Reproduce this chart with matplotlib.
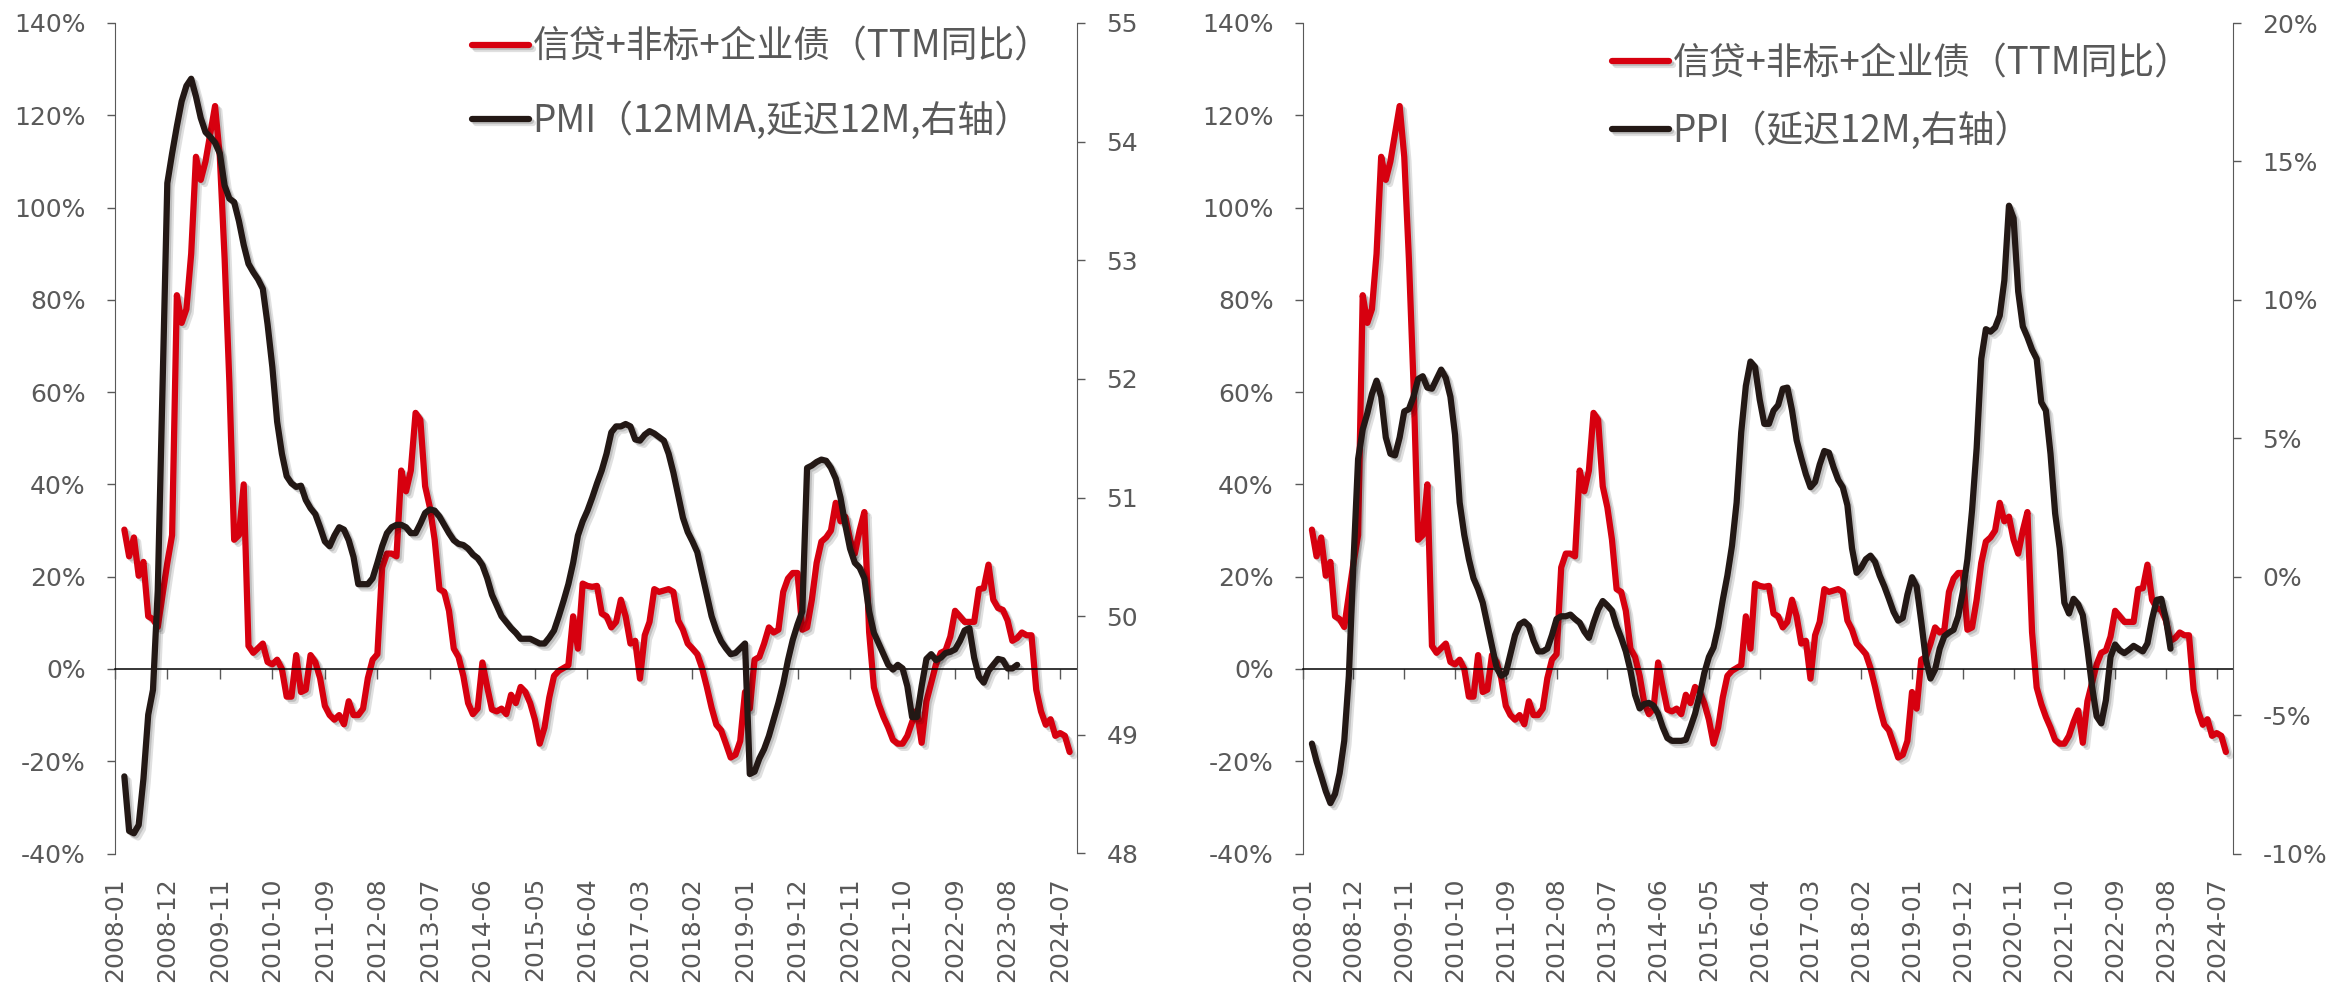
import numpy as np
import matplotlib
matplotlib.use('Agg')
import matplotlib.pyplot as plt
import matplotlib.patheffects as pe

# month offsets counted from 2008-01
credit_months = np.arange(2, 201)
credit_yoy = [
    30.2, 24.4, 28.5, 20.2, 23.2, 11.4, 10.8, 9.1, 16, 23, 29,
    81, 75, 78, 90, 111, 106, 110, 116, 122, 111, 89, 62,
    28, 29, 40, 5, 3.5, 4.5, 5.5, 1.5, 1, 2, 0,
    -6, -6, 3, -5, -4.5, 3, 1.5, -2, -8, -10, -11, -10,
    -12, -7, -10, -10, -8.6, -2, 2, 3.2, 22, 25, 25, 24.4,
    43, 38.5, 43, 55.5, 54, 39.6, 35, 28, 17.3, 16.7, 12.6, 4.4,
    2.6, -1.5, -7.4, -9.8, -8.6, 1.4, -3.9, -8.8, -9.2, -8.6, -9.8, -5.6,
    -7.4, -3.9, -5, -7.4, -11, -16.2, -12.7, -6.2, -1.5, -0.4, 0.2, 0.8,
    11.4, 4.4, 18.5, 18, 17.8, 18, 12, 11.4, 9, 10.2, 15, 11.4,
    5.5, 6.1, -2.1, 7.3, 10.2, 17.3, 16.7, 17, 17.3, 16.7, 10.5, 8.5,
    5.5, 4.4, 3.2, 0.2, -3.9, -8.4, -12.1, -13.3, -16.2, -19.2, -18.6, -15.6,
    -5, -8.6, 2, 2.6, 5.5, 9, 7.9, 8.5, 16.7, 19.6, 20.8, 20.8,
    8.5, 9, 15, 23, 27.6, 28.5, 30, 36, 32, 33, 28, 25,
    30, 34, 8, -4, -7.6, -10.4, -12.7, -15.4, -16.2, -16.2, -14.5, -11.5,
    -9, -16, -7, -3, 1, 3.5, 4, 7, 12.6, 11.4, 10.2, 10.2,
    10.2, 17.3, 17.5, 22.6, 15, 13.2, 12.8, 10.5, 6.1, 6.7, 7.9, 7.3,
    7.3, -4.5, -9.2, -12.1, -10.9, -14.5, -13.9, -14.5, -18,
]

pmi_months = np.arange(2, 190)
pmi_12mma = [
    48.65, 48.19, 48.17, 48.24, 48.63, 49.17, 49.38, 50.22, 51.92, 53.65,
    53.9, 54.13, 54.34, 54.47, 54.53, 54.38, 54.2, 54.08, 54.04, 53.99,
    53.9, 53.63, 53.52, 53.49, 53.33, 53.13, 52.97, 52.9, 52.84, 52.76,
    52.46, 52.1, 51.64, 51.37, 51.18, 51.12, 51.09, 51.1, 50.98, 50.91,
    50.86, 50.75, 50.63, 50.59, 50.68, 50.75, 50.73, 50.64, 50.5, 50.27,
    50.27, 50.27, 50.32, 50.45, 50.59, 50.7, 50.75, 50.77, 50.77, 50.75,
    50.7, 50.7, 50.78, 50.87, 50.9, 50.89, 50.84, 50.77, 50.7, 50.64,
    50.61, 50.6, 50.57, 50.52, 50.49, 50.43, 50.32, 50.18, 50.09, 50.0,
    49.95, 49.9, 49.86, 49.81, 49.81, 49.81, 49.79, 49.77, 49.77, 49.82,
    49.88, 50.0, 50.13, 50.27, 50.45, 50.68, 50.8, 50.89, 51.0, 51.12,
    51.23, 51.37, 51.55, 51.6, 51.6, 51.62, 51.6, 51.49, 51.48, 51.53,
    51.56, 51.54, 51.51, 51.48, 51.37, 51.21, 51.02, 50.83, 50.71, 50.63,
    50.54, 50.36, 50.18, 50.0, 49.88, 49.79, 49.73, 49.68, 49.69, 49.73,
    49.77, 48.67, 48.69, 48.8, 48.88, 48.99, 49.13, 49.27, 49.43, 49.63,
    49.8, 49.93, 50.04, 51.25, 51.27, 51.3, 51.32, 51.31, 51.25, 51.16,
    51.0, 50.77, 50.57, 50.45, 50.41, 50.32, 50.04, 49.86, 49.77, 49.68,
    49.59, 49.55, 49.59, 49.56, 49.41, 49.15, 49.15, 49.41, 49.64, 49.68,
    49.63, 49.65, 49.69, 49.7, 49.72, 49.79, 49.88, 49.9, 49.65, 49.49,
    49.44, 49.54, 49.59, 49.64, 49.63, 49.56, 49.56, 49.59,
]

ppi_months = np.arange(2, 189)
ppi_yoy = [
    -6.03, -6.67, -7.2, -7.75, -8.18, -7.85, -7.1, -5.93, -3.58, 0.53,
    4.25, 5.32, 5.9, 6.6, 7.08, 6.5, 5.03, 4.44, 4.38, 5.03,
    5.97, 6.05, 6.5, 7.14, 7.24, 6.83, 6.79, 7.14, 7.48, 7.18,
    6.5, 5.13, 2.68, 1.51, 0.63, -0.06, -0.45, -0.94, -1.72, -2.5,
    -3.29, -3.58, -3.48, -2.8, -2.11, -1.72, -1.62, -1.78, -2.31, -2.7,
    -2.7, -2.6, -2.11, -1.53, -1.43, -1.43, -1.37, -1.53, -1.66, -1.98,
    -2.21, -1.66, -1.19, -0.88, -1.04, -1.23, -1.78, -2.21, -2.7, -3.39,
    -4.27, -4.76, -4.6, -4.56, -4.66, -4.95, -5.44, -5.83, -5.93, -5.93,
    -5.93, -5.89, -5.44, -4.95, -4.27, -3.48, -2.9, -2.56, -1.82, -0.84,
    0.04, 1.12, 2.68, 5.22, 6.89, 7.77, 7.57, 6.4, 5.52, 5.52,
    6.0, 6.2, 6.79, 6.83, 6.01, 4.93, 4.29, 3.7, 3.23, 3.42,
    4.05, 4.54, 4.48, 3.95, 3.5, 3.23, 2.58, 1.02, 0.14, 0.33,
    0.63, 0.76, 0.53, 0.04, -0.35, -0.8, -1.27, -1.59, -1.49, -0.65,
    -0.02, -0.35, -1.62, -2.99, -3.68, -3.35, -2.6, -2.15, -2.02, -1.92,
    -1.43, -0.55, 0.63, 2.39, 4.64, 7.87, 8.94, 8.85, 9.0, 9.43,
    10.7, 13.4, 12.95, 10.3, 9.04, 8.65, 8.2, 7.87, 6.3, 6.0,
    4.44, 2.29, 1.02, -0.94, -1.33, -0.8, -1.0, -1.39, -2.6, -3.97,
    -5.05, -5.3, -4.46, -2.9, -2.45, -2.66, -2.76, -2.64, -2.5, -2.6,
    -2.7, -2.41, -1.53, -0.84, -0.8, -1.53, -2.6,
]

tick_months = np.arange(0, 199, 11)
tick_labels = [
    '2008-01', '2008-12', '2009-11', '2010-10', '2011-09', '2012-08',
    '2013-07', '2014-06', '2015-05', '2016-04', '2017-03', '2018-02',
    '2019-01', '2019-12', '2020-11', '2021-10', '2022-09', '2023-08',
    '2024-07',
]

left_ticks = np.arange(-40, 141, 20)
pmi_ticks = np.arange(48, 56)
ppi_ticks = np.arange(-10, 21, 5)

credit_label = '信贷+非标+企业债（TTM同比）'
pmi_label = 'PMI（12MMA,延迟12M,右轴）'
ppi_label = 'PPI（延迟12M,右轴）'

RED = '#D7000F'
DARK = '#231815'
GREY = '#595959'

W, H = 2331, 983
fig = plt.figure(figsize=(W / 100, H / 100), dpi=100)

shadow = [pe.SimpleLineShadow(offset=(3, -3), shadow_color='black', alpha=0.12),
          pe.SimpleLineShadow(offset=(1.5, -1.5), shadow_color='black', alpha=0.15),
          pe.Normal()]
cjk = ['Noto Sans CJK SC', 'DejaVu Sans']


def panel(x0, x1, y_top, y_bot, r_months, r_vals, r_lim, r_ticks, r_fmt,
          r_label, leg_x, leg_y, leg_space):
    ax = fig.add_axes([x0 / W, 1 - y_bot / H, (x1 - x0) / W, (y_bot - y_top) / H])
    ax.set_xlim(0, 201.6)
    ax.set_ylim(-40, 140)
    l1, = ax.plot(credit_months, credit_yoy, color=RED, lw=4.5,
                  solid_joinstyle='round', solid_capstyle='round', path_effects=shadow)

    ax.set_yticks(left_ticks, labels=[f'{v}%' for v in left_ticks])
    ax.tick_params(axis='y', direction='out', length=6, width=1, color=GREY,
                   labelcolor=GREY, labelsize=18, pad=15)

    # zero line carries the x tick marks, labels sit below the plot
    ax.spines['bottom'].set_position(('data', 0))
    ax.spines['bottom'].set_color('black')
    ax.spines['bottom'].set_linewidth(1.1)
    ax.spines['top'].set_visible(False)
    ax.spines['left'].set_color(GREY)
    ax.spines['right'].set_visible(False)
    ax.set_xticks(tick_months)
    ax.tick_params(axis='x', direction='out', length=7, width=1, color=GREY,
                   labelbottom=False)

    sec = ax.secondary_xaxis('bottom')
    sec.set_xticks(tick_months, labels=tick_labels, rotation=90)
    sec.tick_params(length=0, pad=17, labelsize=18, labelcolor=GREY)
    sec.spines['bottom'].set_visible(False)

    ax2 = ax.twinx()
    l2, = ax2.plot(r_months, r_vals, color=DARK, lw=4.5,
                   solid_joinstyle='round', solid_capstyle='round', path_effects=shadow)
    ax2.set_ylim(*r_lim)
    ax2.set_yticks(r_ticks, labels=[r_fmt(v) for v in r_ticks])
    ax2.tick_params(axis='y', direction='out', length=6, width=1, color=GREY,
                    labelcolor=GREY, labelsize=18, pad=15)
    for s in ['top', 'bottom', 'left']:
        ax2.spines[s].set_visible(False)
    ax2.spines['right'].set_color(GREY)

    ax2.legend([l1, l2], [credit_label, r_label], loc='upper left',
               bbox_to_anchor=(leg_x / W, 1 - leg_y / H), bbox_transform=fig.transFigure,
               frameon=False, prop={'family': cjk, 'size': 26.5}, labelcolor=GREY,
               handlelength=1.55, handletextpad=0.1, labelspacing=leg_space,
               borderpad=0, borderaxespad=0)
    return ax, ax2


panel(114.8, 1077.3, 23, 853.5, pmi_months, pmi_12mma, (48, 55), pmi_ticks,
      lambda v: f'{v}', pmi_label, 472, 27.5, 0.97)
panel(1302.7, 2233.3, 23, 853.5, ppi_months, ppi_yoy, (-10, 20), ppi_ticks,
      lambda v: f'{v}%', ppi_label, 1612, 44, 0.78)

fig.savefig('out.png', dpi=100)
